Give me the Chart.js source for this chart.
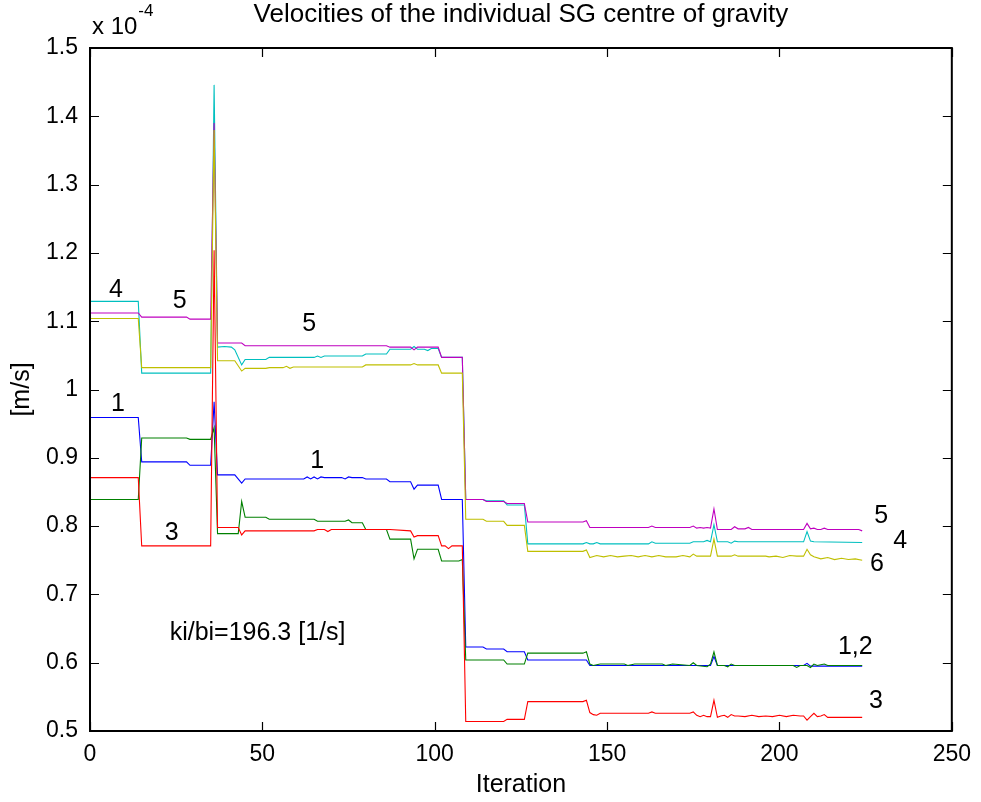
<!DOCTYPE html>
<html>
<head>
<meta charset="utf-8">
<script src="https://cdn.jsdelivr.net/npm/chart.js@4/dist/chart.umd.min.js"></script>
<style>
html,body{margin:0;padding:0;background:#fff;}
#wrap{width:981px;height:802px;}
</style>
</head>
<body>
<div id="wrap"><canvas id="c" width="981" height="802"></canvas></div>
<script>
// ---- DATA (velocities in units of 1e-4 m/s) ----
const seriesNames = ["1", "2", "3", "4", "5", "6"];
const seriesColors = ["#0000ff", "#008000", "#ff0000", "#00bfbf", "#bf00bf", "#bfbf00"];

const iter1 = [0,14,15,28,29,35,36,37,42,44,45,62,63,64,65,66,67,68,73,74,75,76,79,80,86,87,93,94,95,101,102,108,109,114,115,120,121,126,127,144,145,180,181,182,207,208,209,224];
const vel1  = [0.959,0.959,0.894,0.894,0.889,0.889,0.982,0.875,0.875,0.863,0.869,0.869,0.872,0.869,0.872,0.869,0.872,0.871,0.871,0.869,0.872,0.871,0.871,0.869,0.869,0.865,0.865,0.854,0.860,0.860,0.839,0.839,0.623,0.623,0.620,0.620,0.616,0.616,0.604,0.604,0.596,0.596,0.609,0.596,0.596,0.599,0.595,0.595];

const iter2 = [0,14,15,28,29,35,36,37,43,44,45,51,52,65,66,74,75,76,79,80,86,87,93,94,95,101,102,107,108,109,120,121,126,127,143,144,145,146,148,155,156,158,166,167,169,174,175,176,179,180,181,182,184,185,186,187,204,205,206,208,209,210,211,213,214,224];
const vel2  = [0.839,0.839,0.929,0.929,0.927,0.927,0.944,0.789,0.789,0.836,0.813,0.813,0.810,0.810,0.807,0.807,0.809,0.805,0.805,0.795,0.795,0.781,0.781,0.752,0.766,0.766,0.749,0.749,0.751,0.604,0.604,0.598,0.598,0.614,0.614,0.616,0.598,0.596,0.598,0.598,0.596,0.598,0.598,0.596,0.598,0.596,0.600,0.596,0.594,0.598,0.616,0.596,0.596,0.594,0.598,0.596,0.596,0.593,0.596,0.596,0.593,0.598,0.596,0.598,0.596,0.596];

const iter3 = [0,14,15,35,36,37,43,44,45,65,66,68,69,70,87,93,94,95,101,102,103,104,105,108,109,120,121,126,127,143,144,145,146,147,148,162,163,164,174,175,176,177,178,179,180,181,182,183,184,185,186,187,188,190,192,194,196,198,200,202,204,206,207,208,209,210,211,212,213,214,224];
const vel3  = [0.871,0.871,0.771,0.771,1.204,0.798,0.798,0.787,0.793,0.793,0.795,0.795,0.792,0.795,0.795,0.793,0.784,0.786,0.786,0.771,0.771,0.767,0.771,0.771,0.514,0.514,0.517,0.517,0.543,0.543,0.545,0.527,0.524,0.523,0.526,0.526,0.528,0.526,0.526,0.528,0.523,0.521,0.523,0.521,0.521,0.545,0.520,0.522,0.523,0.520,0.524,0.522,0.522,0.521,0.523,0.521,0.522,0.521,0.523,0.521,0.523,0.522,0.522,0.516,0.521,0.526,0.521,0.522,0.524,0.520,0.520];

const iter4 = [0,14,15,35,36,37,39,41,42,44,45,51,52,65,66,67,68,79,80,86,87,93,94,95,97,98,99,101,102,108,109,114,115,120,121,126,127,143,144,145,146,147,148,162,163,164,174,175,178,179,180,181,182,185,186,187,188,207,208,209,210,224];
const vel4  = [1.129,1.129,1.024,1.024,1.446,1.062,1.063,1.062,1.058,1.036,1.044,1.044,1.047,1.047,1.049,1.047,1.049,1.049,1.052,1.052,1.059,1.059,1.063,1.059,1.059,1.057,1.060,1.060,1.047,1.047,0.839,0.839,0.837,0.837,0.831,0.831,0.774,0.774,0.776,0.774,0.774,0.776,0.774,0.774,0.777,0.775,0.775,0.777,0.777,0.779,0.777,0.802,0.777,0.777,0.775,0.778,0.777,0.777,0.792,0.778,0.777,0.776];

const iter5 = [0,14,15,28,29,35,36,37,44,45,86,87,93,94,95,101,102,108,109,114,115,120,121,126,127,143,144,145,162,163,164,174,175,176,177,178,179,180,181,182,186,187,188,190,191,192,207,208,209,210,211,212,213,214,223,224];
const vel5  = [1.112,1.112,1.106,1.106,1.103,1.103,1.390,1.068,1.068,1.064,1.064,1.062,1.062,1.058,1.062,1.062,1.047,1.047,0.839,0.839,0.836,0.836,0.833,0.833,0.806,0.806,0.808,0.798,0.798,0.800,0.798,0.798,0.800,0.797,0.798,0.797,0.798,0.797,0.825,0.795,0.795,0.799,0.796,0.796,0.798,0.795,0.795,0.804,0.796,0.797,0.795,0.795,0.797,0.795,0.795,0.793];

const iter6 = [0,14,15,35,36,37,42,44,45,51,52,56,57,58,59,79,80,93,94,95,101,102,108,109,114,115,120,121,126,127,143,144,145,147,149,151,153,155,157,159,161,163,165,167,170,172,174,175,176,180,181,182,186,187,188,196,197,199,201,203,205,207,208,209,210,212,214,216,218,220,222,224];
const vel6  = [1.104,1.104,1.032,1.032,1.380,1.042,1.042,1.027,1.031,1.031,1.032,1.032,1.034,1.031,1.033,1.033,1.036,1.036,1.038,1.036,1.036,1.024,1.024,0.810,0.810,0.807,0.807,0.801,0.801,0.763,0.763,0.765,0.754,0.757,0.755,0.757,0.755,0.756,0.757,0.755,0.757,0.755,0.757,0.755,0.755,0.757,0.755,0.759,0.756,0.756,0.781,0.756,0.756,0.758,0.756,0.756,0.755,0.756,0.754,0.757,0.756,0.756,0.766,0.758,0.755,0.752,0.754,0.751,0.753,0.751,0.752,0.750];

const xTicks = [0, 50, 100, 150, 200, 250];
const yTicks = [0.5, 0.6, 0.7, 0.8, 0.9, 1.0, 1.1, 1.2, 1.3, 1.4, 1.5];

const titleText = "Velocities of the individual SG centre of gravity";
const xLabel = "Iteration";
const yLabel = "[m/s]";
const annoText = ["4", "5", "5", "1", "1", "3", "ki/bi=196.3 [1/s]", "5", "4", "6", "1,2", "3"];
const annoX    = [7.5, 26, 63.6, 8.1, 65.9, 23.7, 23.1, 229.5, 235, 228.3, 222, 228];
const annoY    = [1.146, 1.130, 1.096, 0.979, 0.895, 0.790, 0.643, 0.815, 0.778, 0.745, 0.623, 0.544];

// ---- BUILD ----
const iters = [iter1, iter2, iter3, iter4, iter5, iter6];
const vels = [vel1, vel2, vel3, vel4, vel5, vel6];
const FONT = "'Liberation Sans', Arial, Helvetica, sans-serif";

const datasets = seriesNames.map((n, k) => ({
  label: n,
  data: iters[k].map((x, j) => ({x: x, y: vels[k][j]})),
  borderColor: seriesColors[k],
  backgroundColor: seriesColors[k],
  borderWidth: 1.1,
  pointRadius: 0,
  tension: 0,
  fill: false,
  order: 6 - k
}));

const decor = {
  id: 'decor',
  afterDatasetsDraw(chart) {
    const ctx = chart.ctx;
    const a = chart.chartArea;
    const xs = chart.scales.x, ys = chart.scales.y;
    ctx.save();
    // box
    ctx.strokeStyle = '#000';
    ctx.lineWidth = 2;
    ctx.strokeRect(a.left, a.top, a.right - a.left, a.bottom - a.top);
    // inward ticks
    ctx.lineWidth = 1.2;
    const tl = 9;
    ctx.beginPath();
    xTicks.forEach(t => {
      const px = Math.round(xs.getPixelForValue(t)) + 0.5;
      ctx.moveTo(px, a.bottom); ctx.lineTo(px, a.bottom - tl);
      ctx.moveTo(px, a.top); ctx.lineTo(px, a.top + tl);
    });
    yTicks.forEach(t => {
      const py = Math.round(ys.getPixelForValue(t)) + 0.5;
      ctx.moveTo(a.left, py); ctx.lineTo(a.left + tl, py);
      ctx.moveTo(a.right, py); ctx.lineTo(a.right - tl, py);
    });
    ctx.stroke();
    // annotations
    ctx.fillStyle = '#000';
    ctx.textBaseline = 'middle';
    ctx.font = '25px ' + FONT;
    annoText.forEach((s, k) => {
      const px = xs.getPixelForValue(annoX[k]);
      const py = ys.getPixelForValue(annoY[k]);
      ctx.textAlign = s.length > 3 ? 'left' : 'center';
      ctx.fillText(s, px, py);
    });
    // title
    ctx.textAlign = 'center';
    ctx.font = '26px ' + FONT;
    ctx.fillText(titleText, (a.left + a.right) / 2, 15);
    // exponent
    ctx.textAlign = 'left';
    ctx.font = '24px ' + FONT;
    ctx.fillText("x 10", a.left + 2, 27);
    const w = ctx.measureText("x 10").width;
    ctx.font = '17px ' + FONT;
    ctx.fillText("-4", a.left + 2 + w + 1, 11);
    // axis labels
    ctx.font = '25px ' + FONT;
    ctx.textAlign = 'center';
    ctx.fillText(xLabel, (a.left + a.right) / 2, 785);
    ctx.save();
    ctx.translate(22, (a.top + a.bottom) / 2);
    ctx.rotate(-Math.PI / 2);
    ctx.fillText(yLabel, 0, 0);
    ctx.restore();
    ctx.restore();
  }
};

new Chart(document.getElementById('c'), {
  type: 'line',
  data: { datasets: datasets },
  options: {
    responsive: false,
    animation: false,
    layout: { padding: { top: 48, right: 26, left: 0, bottom: 0 } },
    plugins: { legend: { display: false }, tooltip: { enabled: false }, title: { display: false } },
    scales: {
      x: {
        type: 'linear', min: 0, max: 250,
        grid: { display: false, drawTicks: false },
        border: { display: false },
        afterBuildTicks(s) { s.ticks = xTicks.map(v => ({value: v})); },
        afterFit(s) { s.height = 71; },
        ticks: { padding: 10, color: '#000', font: { family: FONT, size: 23 }, maxRotation: 0,
                 callback: v => String(v) }
      },
      y: {
        type: 'linear', min: 0.5, max: 1.5,
        grid: { display: false, drawTicks: false },
        border: { display: false },
        afterBuildTicks(s) { s.ticks = yTicks.map(v => ({value: v})); },
        afterFit(s) { s.width = 90; },
        ticks: { padding: 12, color: '#000', font: { family: FONT, size: 23 },
                 callback: v => String(Math.round(v * 10) / 10) }
      }
    }
  },
  plugins: [decor]
});
</script>
</body>
</html>
